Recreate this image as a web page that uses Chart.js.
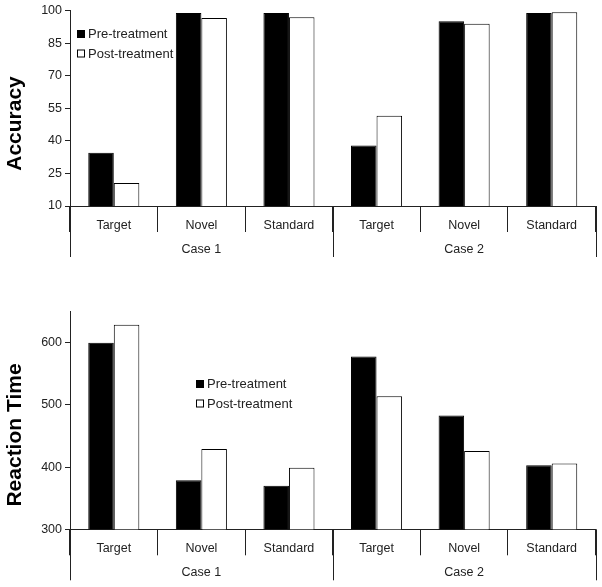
<!DOCTYPE html>
<html>
<head>
<meta charset="utf-8">
<script src="https://cdn.jsdelivr.net/npm/chart.js@4"></script>
<style>
  body { margin: 0; background: #fff; }
  .box { position: absolute; left: 0; width: 602px; }
</style>
</head>
<body>
<div class="box" style="top:0;height:270px"><canvas id="acc"></canvas></div>
<div class="box" style="top:270px;height:317px"><canvas id="rt"></canvas></div>
<script>
const categories = ['Target', 'Novel', 'Standard', 'Target', 'Novel', 'Standard'];
const groups = ['Case 1', 'Case 2'];
const seriesNames = ['Pre-treatment', 'Post-treatment'];
const accuracyPre = [34.5, 98.8, 98.8, 37.9, 95.1, 98.8];
const accuracyPost = [20.6, 96.5, 96.9, 51.5, 93.9, 99.2];
const rtPre = [600, 379, 370, 578, 483, 403];
const rtPost = [629, 429, 399, 514, 426, 406];
const accuracyTicks = [10, 25, 40, 55, 70, 85, 100];
const rtTicks = [300, 400, 500, 600];

const FONT = "'Liberation Sans', Arial, sans-serif";
const INK = '#222';
Chart.defaults.font.family = FONT;
Chart.defaults.color = INK;

// group dividers, group labels, legend and y title drawn over the chart
function extras(o) {
  return {
    id: 'extras',
    afterDraw(chart) {
      const ctx = chart.ctx;
      const x = chart.scales.x;
      const y0 = chart.chartArea.bottom;
      ctx.save();
      ctx.strokeStyle = INK;
      ctx.lineWidth = 1;
      [-0.5, 2.5, 5.5].forEach(v => {
        const px = Math.round(x.getPixelForValue(v)) + 0.5;
        ctx.beginPath();
        ctx.moveTo(px, y0);
        ctx.lineTo(px, y0 + 51);
        ctx.stroke();
      });
      ctx.fillStyle = INK;
      ctx.font = '12.5px ' + FONT;
      ctx.textAlign = 'center';
      ctx.textBaseline = 'middle';
      groups.forEach((g, i) => ctx.fillText(g, x.getPixelForValue(i * 3 + 1), y0 + 43.5));

      // legend
      ctx.textAlign = 'left';
      ctx.font = '13px ' + FONT;
      chart.data.datasets.forEach((ds, i) => {
        const cy = o.legendY + i * 19.5;
        ctx.fillStyle = ds.backgroundColor;
        ctx.fillRect(o.legendX, cy - 4, 8, 8);
        ctx.strokeStyle = '#000';
        ctx.strokeRect(o.legendX + 0.5, cy - 3.5, 7, 7);
        ctx.fillStyle = INK;
        ctx.fillText(ds.label, o.legendX + 11, cy + 0.5);
      });

      // y title
      ctx.translate(o.titleX, o.titleY);
      ctx.rotate(-Math.PI / 2);
      ctx.textAlign = 'center';
      ctx.fillStyle = '#000';
      ctx.font = 'bold 21px ' + FONT;
      ctx.fillText(o.title, 0, 0);
      ctx.restore();
    }
  };
}

function makeChart(id, pre, post, yMin, yMax, yTicks, xHeight, padTop, o) {
  return new Chart(document.getElementById(id), {
    type: 'bar',
    data: {
      labels: categories,
      datasets: [
        { label: seriesNames[0], data: pre, backgroundColor: '#000', borderColor: '#000', borderWidth: 1 },
        { label: seriesNames[1], data: post, backgroundColor: '#fff', borderColor: '#000', borderWidth: 1 }
      ]
    },
    options: {
      responsive: true,
      maintainAspectRatio: false,
      animation: false,
      layout: { padding: { top: padTop, right: 6.5, left: 0, bottom: 0 } },
      datasets: { bar: { categoryPercentage: 0.583, barPercentage: 1 } },
      plugins: { legend: { display: false }, tooltip: { enabled: false } },
      scales: {
        x: {
          grid: { offset: true, drawOnChartArea: false, tickLength: 26, color: INK },
          border: { color: INK },
          ticks: { font: { size: 12.5 }, color: INK, padding: -14, maxRotation: 0 },
          afterFit: s => { s.height = xHeight; }
        },
        y: {
          min: yMin,
          max: yMax,
          grid: { drawOnChartArea: false, tickLength: 5, color: INK },
          border: { color: INK },
          ticks: { font: { size: 12.5 }, color: INK, padding: 3 },
          afterBuildTicks: s => { s.ticks = yTicks.map(v => ({ value: v })); },
          afterFit: s => { s.width = 70; }
        }
      }
    },
    plugins: [extras(o)]
  });
}

makeChart('acc', accuracyPre, accuracyPost, 10, 100, accuracyTicks, 64, 10,
  { title: 'Accuracy', titleX: 15, titleY: 123.5, legendX: 77, legendY: 34 });
makeChart('rt', rtPre, rtPost, 300, 650, rtTicks, 57.7, 41.7,
  { title: 'Reaction Time', titleX: 15, titleY: 165, legendX: 196, legendY: 114 });
</script>
</body>
</html>
